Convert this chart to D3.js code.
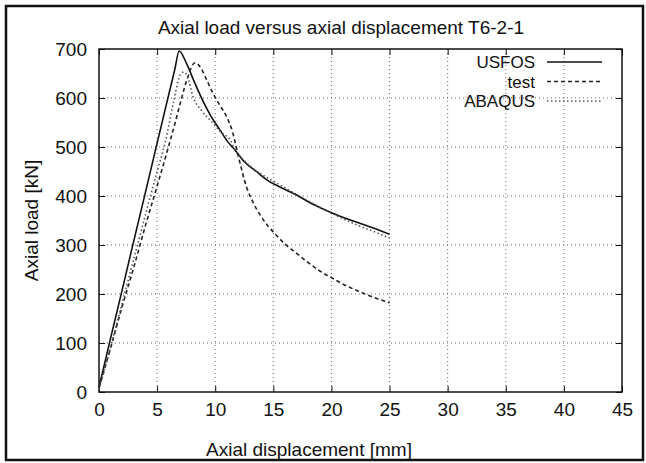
<!DOCTYPE html>
<html>
<head>
<meta charset="utf-8">
<script src="https://cdn.jsdelivr.net/npm/d3@7"></script>
<style>
  body { margin: 0; background: #fff; }
  text { font-family: "Liberation Sans", Arial, sans-serif; fill: #111; }
</style>
</head>
<body>
<div id="chart"></div>
<script>
// values
const xTicks = [0, 5, 10, 15, 20, 25, 30, 35, 40, 45];
const yTicks = [0, 100, 200, 300, 400, 500, 600, 700];

const usfosX = [0, 1, 2, 3, 4, 5, 6, 6.5, 6.9, 7.5, 8.2, 8.9, 9.6, 10.4, 11.0, 11.7, 12.5, 13.6, 14.5, 15.6, 17, 18.5, 20, 21.5, 23, 24, 25];
const usfosY = [10, 110, 209, 309, 408, 508, 607, 656, 696, 672, 633, 596, 564, 535, 513, 494, 470, 449, 432, 418, 402, 382, 366, 352, 340, 331, 322];

const testX = [0, 1, 2, 3, 4, 5, 5.9, 6.5, 7, 7.6, 8.26, 8.8, 9.3, 9.8, 10.4, 11.0, 11.5, 12.0, 12.7, 13.3, 13.9, 14.5, 15.1, 16, 17, 18, 19, 20.1, 21, 22, 23, 24, 25];
const testY = [8, 90, 175, 255, 340, 420, 494, 545, 590, 640, 672, 660, 635, 610, 585, 561, 530, 480, 418, 385, 360, 340, 324, 302, 283, 264, 247, 232, 220, 209, 199, 190, 182];

const abaqusX = [0, 1, 2, 3, 4, 5, 5.7, 6.4, 7.0, 7.3, 7.6, 8.1, 8.8, 9.8, 10.5, 11.3, 11.7, 12.5, 13.5, 15.1, 16.5, 18, 20, 22, 24, 25];
const abaqusY = [5, 92, 182, 272, 362, 450, 510, 590, 648, 653, 645, 602, 575, 549, 530, 514, 494, 472, 452, 429, 410, 390, 365, 343, 324, 314];

const W = 646, H = 463;
const plot = {left: 99, right: 622, top: 49, bottom: 392};
const fontSize = "19px";

const svg = d3.select("#chart").append("svg")
    .attr("width", W)
    .attr("height", H);

// outer frame
svg.append("rect")
    .attr("x", 6).attr("y", 6)
    .attr("width", 637).attr("height", 454)
    .attr("fill", "none")
    .attr("stroke", "#111")
    .attr("stroke-width", 2.5);

const x = d3.scaleLinear().domain([0, 45]).range([plot.left, plot.right]);
const y = d3.scaleLinear().domain([0, 700]).range([plot.bottom, plot.top]);

// grid
svg.append("g").selectAll("line")
    .data(xTicks.slice(1, -1))
    .enter().append("line")
    .attr("x1", d => x(d)).attr("x2", d => x(d))
    .attr("y1", plot.top).attr("y2", plot.bottom)
    .attr("stroke", "#444")
    .attr("stroke-width", 0.8)
    .attr("stroke-dasharray", "1,3");

svg.append("g").selectAll("line")
    .data(yTicks.slice(1, -1))
    .enter().append("line")
    .attr("x1", plot.left).attr("x2", plot.right)
    .attr("y1", d => y(d)).attr("y2", d => y(d))
    .attr("stroke", "#444")
    .attr("stroke-width", 0.8)
    .attr("stroke-dasharray", "1,3");

// axes, ticks pointing in
const xAxis = svg.append("g")
    .attr("transform", "translate(0," + plot.bottom + ")")
    .call(d3.axisBottom(x).tickValues(xTicks).tickSize(-6).tickPadding(11));
const xAxisTop = svg.append("g")
    .attr("transform", "translate(0," + plot.top + ")")
    .call(d3.axisTop(x).tickValues(xTicks).tickSize(-6).tickFormat(""));
const yAxis = svg.append("g")
    .attr("transform", "translate(" + plot.left + ",0)")
    .call(d3.axisLeft(y).tickValues(yTicks).tickSize(-6).tickPadding(12));
const yAxisRight = svg.append("g")
    .attr("transform", "translate(" + plot.right + ",0)")
    .call(d3.axisRight(y).tickValues(yTicks).tickSize(-6).tickFormat(""));

[xAxis, xAxisTop, yAxis, yAxisRight].forEach(function(a){
    a.select(".domain").remove();
    a.selectAll("line").attr("stroke", "#111");
    a.selectAll("text").style("font-size", fontSize).attr("fill", "#111");
});

svg.append("rect")
    .attr("x", plot.left).attr("y", plot.top)
    .attr("width", plot.right - plot.left)
    .attr("height", plot.bottom - plot.top)
    .attr("fill", "none")
    .attr("stroke", "#111")
    .attr("stroke-width", 1.5);

// titles
svg.append("text")
    .attr("x", 341).attr("y", 34)
    .attr("text-anchor", "middle")
    .style("font-size", fontSize)
    .text("Axial load versus axial displacement T6-2-1");

svg.append("text")
    .attr("x", 309).attr("y", 456)
    .attr("text-anchor", "middle")
    .style("font-size", fontSize)
    .text("Axial displacement [mm]");

svg.append("text")
    .attr("transform", "translate(38," + ((plot.top + plot.bottom) / 2) + ") rotate(-90)")
    .attr("text-anchor", "middle")
    .style("font-size", fontSize)
    .text("Axial load [kN]");

// curves
const series = [
    {name: "USFOS", xs: usfosX, ys: usfosY, dash: null, color: "#111", width: 1.6},
    {name: "test", xs: testX, ys: testY, dash: "4,3", color: "#222", width: 1.6},
    {name: "ABAQUS", xs: abaqusX, ys: abaqusY, dash: "1.5,2.5", color: "#555", width: 1.6}
];

const line = d3.line()
    .x(d => x(d[0]))
    .y(d => y(d[1]))
    .curve(d3.curveMonotoneX);

series.forEach(function(s){
    const pts = s.xs.map((v, i) => [v, s.ys[i]]);
    svg.append("path")
        .datum(pts)
        .attr("d", line)
        .attr("fill", "none")
        .attr("stroke", s.color)
        .attr("stroke-width", s.width)
        .attr("stroke-dasharray", s.dash);
});

// legend
const legend = svg.append("g")
    .selectAll("g")
    .data(series)
    .enter().append("g")
    .attr("transform", (d, i) => "translate(0," + (68 + i * 19.5) + ")");

legend.append("text")
    .attr("x", 535)
    .attr("text-anchor", "end")
    .style("font-size", "17px")
    .text(d => d.name);

legend.append("line")
    .attr("x1", 547).attr("x2", 602)
    .attr("y1", -6).attr("y2", -6)
    .attr("stroke", d => d.color)
    .attr("stroke-width", d => d.width)
    .attr("stroke-dasharray", d => d.dash);
</script>
</body>
</html>
